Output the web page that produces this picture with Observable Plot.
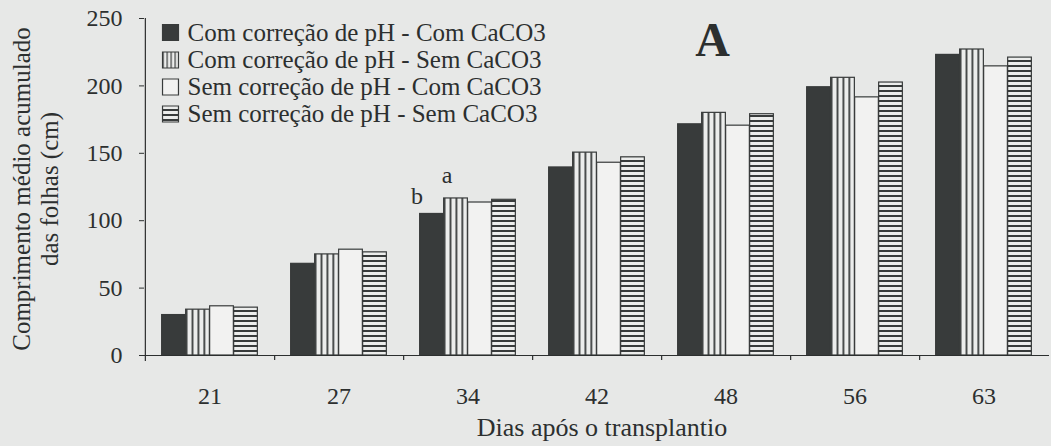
<!DOCTYPE html>
<html>
<head>
<meta charset="utf-8">
<script src="https://cdn.jsdelivr.net/npm/d3@7"></script>
<script src="https://cdn.jsdelivr.net/npm/@observablehq/plot@0.6"></script>
<style>
  html, body { margin: 0; padding: 0; background: #e7e8e7; }
  #chart { width: 1051px; height: 446px; }
</style>
</head>
<body>
<div id="chart"></div>
<script>
// Days after transplanting (categories on the x axis)
const days = ["21", "27", "34", "42", "48", "56", "63"];

// Treatment names, in legend order
const seriesNames = [
  "Com correção de pH - Com CaCO3",
  "Com correção de pH - Sem CaCO3",
  "Sem correção de pH - Com CaCO3",
  "Sem correção de pH - Sem CaCO3"
];

// Mean accumulated leaf length (cm) per treatment
const comPhComCaco3 = [30, 68, 105, 139.5, 171.5, 199, 223];
const comPhSemCaco3 = [34, 75, 116.5, 150.5, 180, 206, 227];
const semPhComCaco3 = [36.5, 78.5, 113.5, 143, 170.5, 191.5, 214.5];
const semPhSemCaco3 = [35.5, 76.5, 115.5, 147, 179, 202.5, 221];

const yTicks = [0, 50, 100, 150, 200, 250];

// Significance letters drawn over the day-34 bars
const letterDay = "34";
const letters = ["b", "a"];

// ---- layout & styling ----
const W = 1051, H = 446;
const M = {left: 144, right: 2, top: 18, bottom: 91};
const step = (W - M.left - M.right) / days.length;
const barW = 24;
const groupOff = (step - barW * seriesNames.length) / 2;
const ink = "#2c2f2f";
const dark = "#383b3b";
const fills = [dark, "url(#vstripes)", "#f2f2f1", "url(#hstripes)"];

const seriesValues = [comPhComCaco3, comPhSemCaco3, semPhComCaco3, semPhSemCaco3];
const rows = seriesValues.map((vals) => days.map((d, j) => ({day: d, value: vals[j]})));

const bars = rows.map((data, i) =>
  Plot.barY(data, {
    x: "day",
    y: "value",
    fill: fills[i],
    stroke: dark,
    strokeWidth: 1.2,
    insetLeft: groupOff + barW * i,
    insetRight: step - groupOff - barW * (i + 1)
  })
);

// centre of bar i relative to the band centre
const barCenter = (i) => groupOff + barW * i + barW / 2 - step / 2;

const legendRowY = [32, 59.5, 86.5, 113.5];

const svg = Plot.plot({
  width: W,
  height: H,
  marginLeft: M.left,
  marginRight: M.right,
  marginTop: M.top,
  marginBottom: M.bottom,
  style: {fontFamily: "'Liberation Serif', 'Times New Roman', serif", fontSize: "24px", color: ink, background: "transparent"},
  x: {domain: days, padding: 0},
  y: {domain: [0, 250]},
  marks: [
    ...bars,
    // x axis line and y axis line
    Plot.ruleY([0], {stroke: ink, strokeWidth: 1.2}),
    Plot.ruleX([days[0]], {dx: -step / 2, y1: 250, y2: 0, insetBottom: -6, stroke: ink, strokeWidth: 1.2}),
    // tick marks between day groups
    Plot.ruleX(days.slice(0, -1), {dx: step / 2, y1: 0, y2: 0, insetBottom: -5, stroke: ink, strokeWidth: 1.2}),
    Plot.axisY(yTicks, {tickSize: 5, tickPadding: 17, label: null, fontSize: 24, stroke: ink}),
    Plot.axisX({tickSize: 0, tickPadding: 31, label: null, fontSize: 24}),
    // axis titles
    Plot.text(["Dias após o transplantio"], {frameAnchor: "bottom", lineAnchor: "top", dx: 5, dy: 62, fontSize: 26, fill: ink}),
    Plot.text(["Comprimento médio acumulado\ndas folhas (cm)"], {
      frameAnchor: "left", rotate: -90, textAnchor: "middle", lineAnchor: "middle",
      lineHeight: 1.12, dx: -109, dy: 2, fontSize: 25, fill: ink
    }),
    // significance letters
    ...letters.map((t, i) =>
      Plot.text([seriesValues[i][days.indexOf(letterDay)]], {
        x: () => letterDay, y: (d) => d, text: () => t,
        dx: barCenter(i) + (i === 0 ? -15 : -9), dy: i === 0 ? -18 : -23,
        fontSize: 24, fill: ink
      })
    ),
    // panel letter
    Plot.text(["A"], {frameAnchor: "top-left", lineAnchor: "top", textAnchor: "middle", dx: 568, dy: 3, fontSize: 48, fontWeight: "bold", fill: ink}),
    // legend
    ...seriesNames.map((s, i) =>
      Plot.dot([s], {frameAnchor: "top-left", symbol: "square", r: 9, dx: 26, dy: legendRowY[i] - M.top, fill: fills[i], stroke: dark, strokeWidth: 1.2})
    ),
    Plot.text([seriesNames.join("\n")], {
      frameAnchor: "top-left", textAnchor: "start", lineAnchor: "middle",
      lineHeight: 27 / 25, dx: 43, dy: (legendRowY[0] + legendRowY[3]) / 2 - M.top,
      fontSize: 25, fill: ink
    })
  ]
});

// hatch patterns used by the striped bars
const defs = d3.select(svg).insert("defs", ":first-child");
const vp = defs.append("pattern").attr("id", "vstripes")
  .attr("patternUnits", "objectBoundingBox").attr("patternContentUnits", "objectBoundingBox")
  .attr("width", 0.25).attr("height", 1);
vp.append("rect").attr("width", 0.25).attr("height", 1).attr("fill", "#ecedec");
vp.append("rect").attr("width", 0.075).attr("height", 1).attr("fill", dark);
const hp = defs.append("pattern").attr("id", "hstripes")
  .attr("patternUnits", "userSpaceOnUse").attr("width", 10).attr("height", 5);
hp.append("rect").attr("width", 10).attr("height", 5).attr("fill", "#ecedec");
hp.append("rect").attr("width", 10).attr("height", 2).attr("fill", dark);

document.getElementById("chart").appendChild(svg);
</script>
</body>
</html>
